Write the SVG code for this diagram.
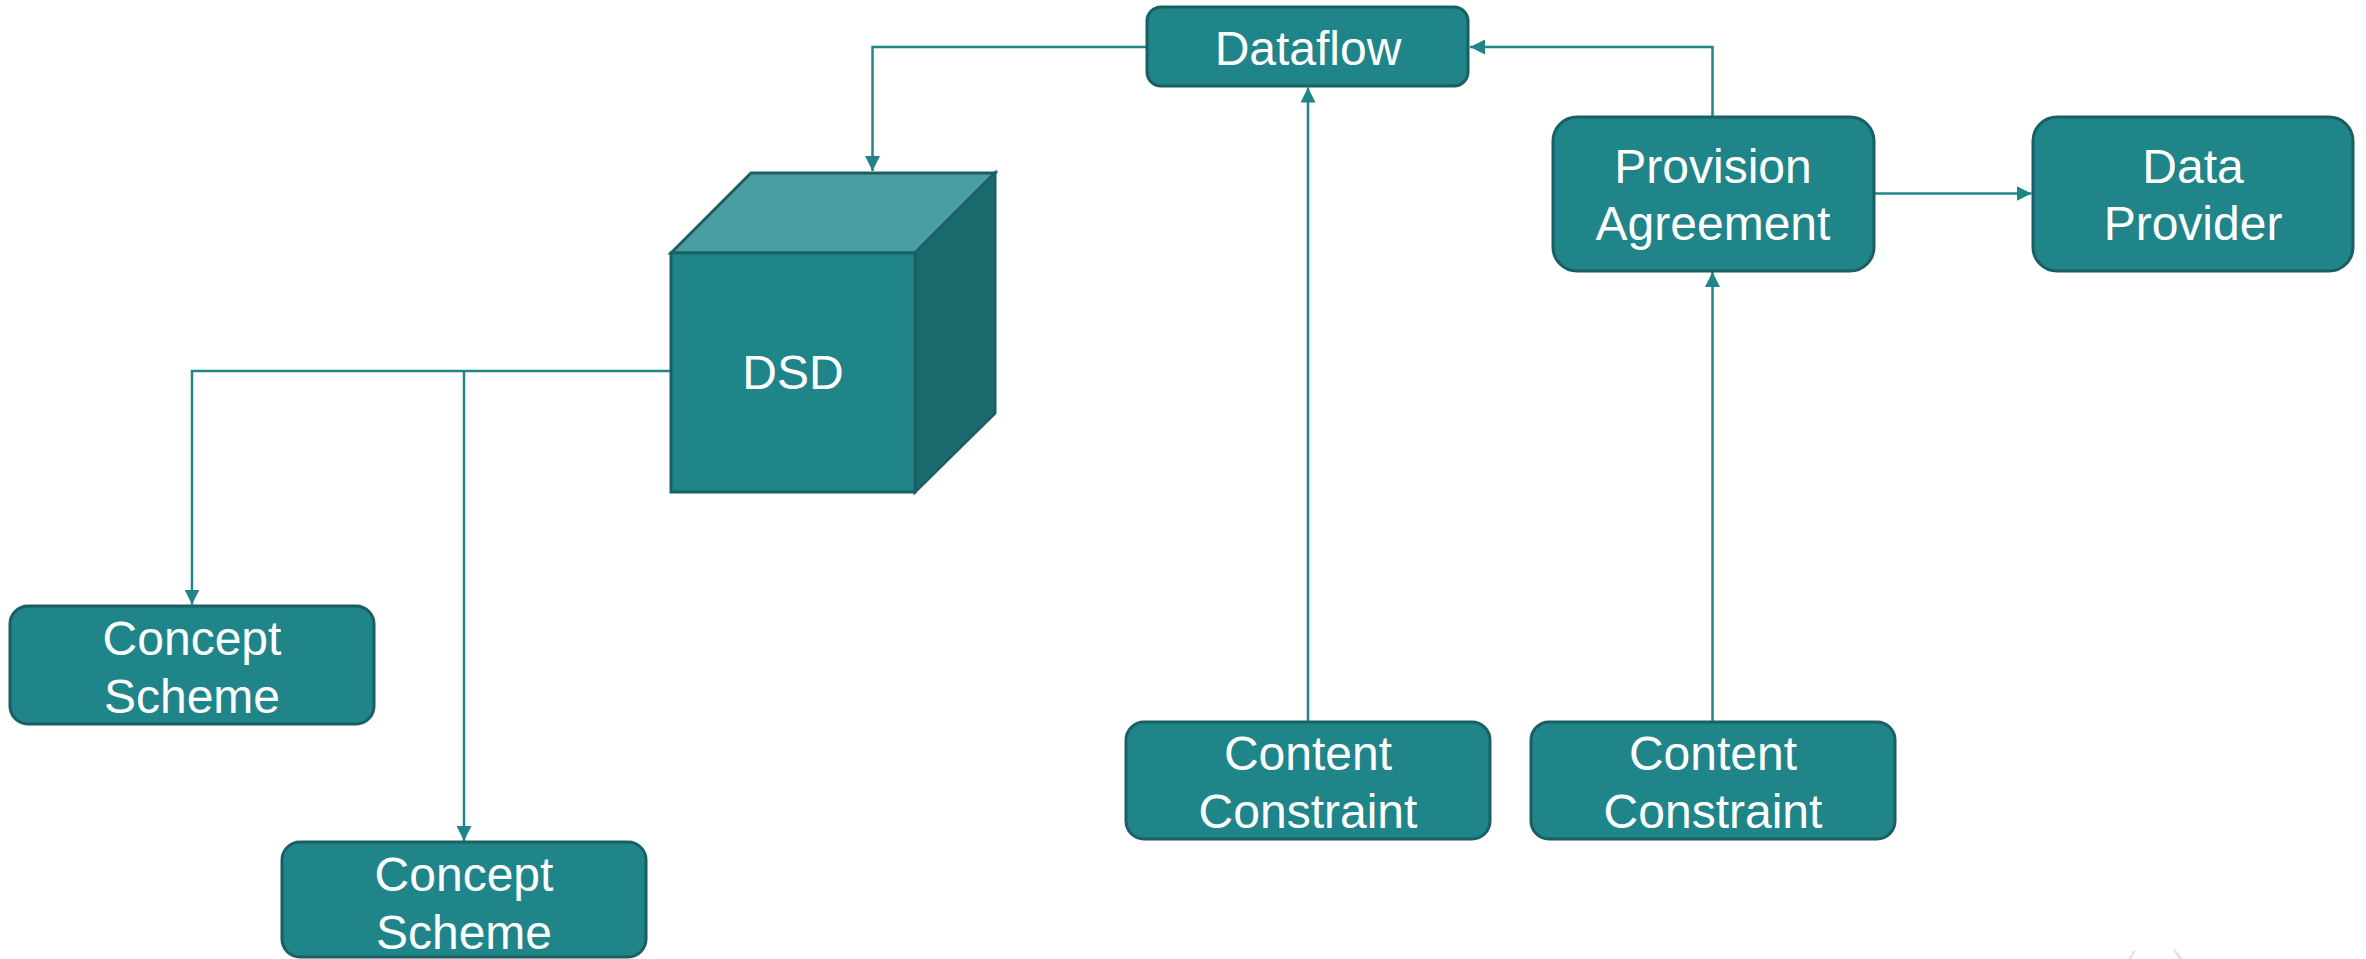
<svg xmlns="http://www.w3.org/2000/svg" width="2366" height="959" viewBox="0 0 2366 959">
  <style>
    .box { fill: #1f8589; stroke: #1a5f63; stroke-width: 3; }
    .label { fill: #ffffff; font-family: "Liberation Sans", Arial, sans-serif; font-size: 48px; text-anchor: middle; }
    .wire { fill: none; stroke: #1f8589; stroke-width: 2.5; }
  </style>
  <defs>
    <marker id="arrow" viewBox="0 0 15 15" refX="15" refY="7.5" markerWidth="15" markerHeight="15" markerUnits="userSpaceOnUse" orient="auto">
      <path d="M0,0 L15,7.5 L0,15 Z" fill="#1f8589"/>
    </marker>
  </defs>

  <rect width="2366" height="959" fill="#ffffff"/>

  <!-- connectors -->
  <g id="connectors">
    <path class="wire" d="M1147,47 H872.5 V171" marker-end="url(#arrow)"/>
    <path class="wire" d="M1712.5,117 V47 H1470" marker-end="url(#arrow)"/>
    <path class="wire" d="M1308,722 V87.5" marker-end="url(#arrow)"/>
    <path class="wire" d="M1712.5,722 V272" marker-end="url(#arrow)"/>
    <path class="wire" d="M1874,193.5 H2031.5" marker-end="url(#arrow)"/>
    <path class="wire" d="M671,371 H192 V604.5" marker-end="url(#arrow)"/>
    <path class="wire" d="M464,371 V841" marker-end="url(#arrow)"/>
  </g>

  <!-- nodes -->
  <g id="dataflow">
    <rect class="box" x="1147" y="7" width="321" height="79" rx="14"/>
    <text class="label" x="1308" y="65">Dataflow</text>
  </g>

  <g id="dsd">
    <polygon points="671,253 751,173 995,173 915,253" fill="#4a9da2" stroke="#1a5f63" stroke-width="3" stroke-linejoin="miter"/>
    <polygon points="915,253 995,173 995,413 915,492" fill="#196b6e" stroke="#1a5f63" stroke-width="3"/>
    <rect x="671" y="253" width="244" height="239" fill="#1f8589" stroke="#1a5f63" stroke-width="3"/>
    <text class="label" x="793" y="389">DSD</text>
  </g>

  <g id="provision-agreement">
    <rect class="box" x="1553" y="117" width="321" height="154" rx="24"/>
    <text class="label" x="1713" y="183">Provision</text>
    <text class="label" x="1713" y="240">Agreement</text>
  </g>

  <g id="data-provider">
    <rect class="box" x="2033" y="117" width="320" height="154" rx="24"/>
    <text class="label" x="2193" y="183">Data</text>
    <text class="label" x="2193" y="240">Provider</text>
  </g>

  <g id="concept-scheme-1">
    <rect class="box" x="10" y="606" width="364" height="118" rx="18"/>
    <text class="label" x="192" y="655">Concept</text>
    <text class="label" x="192" y="713">Scheme</text>
  </g>

  <g id="concept-scheme-2">
    <rect class="box" x="282" y="842" width="364" height="115" rx="18"/>
    <text class="label" x="464" y="891">Concept</text>
    <text class="label" x="464" y="949">Scheme</text>
  </g>

  <g id="content-constraint-1">
    <rect class="box" x="1126" y="722" width="364" height="117" rx="18"/>
    <text class="label" x="1308" y="770">Content</text>
    <text class="label" x="1308" y="828">Constraint</text>
  </g>

  <g id="content-constraint-2">
    <rect class="box" x="1531" y="722" width="364" height="117" rx="18"/>
    <text class="label" x="1713" y="770">Content</text>
    <text class="label" x="1713" y="828">Constraint</text>
  </g>

  <!-- faint grey marks at the lower right edge -->
  <g id="corner-mark" fill="#e4e4e4">
    <polygon points="2134,950 2136,951 2131,959 2128,959"/>
    <polygon points="2173,949 2175,949 2183,959 2178,959"/>
  </g>
</svg>
